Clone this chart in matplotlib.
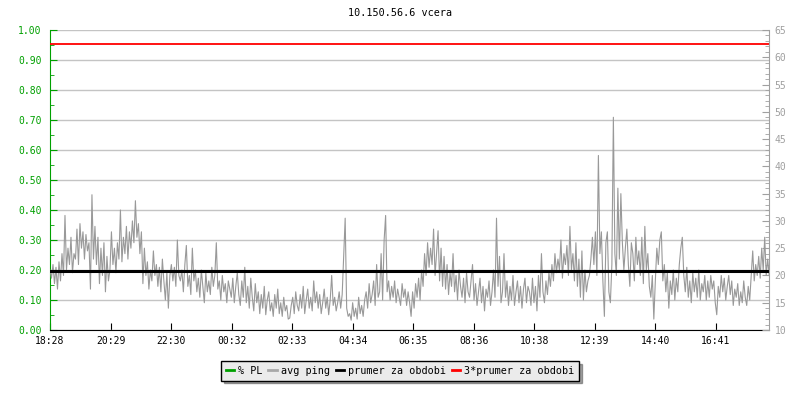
import numpy as np
import matplotlib
matplotlib.use('Agg')
import matplotlib.pyplot as plt
from matplotlib.lines import Line2D

title = '10.150.56.6 vcera'

# avg ping [ms], one value every 3 minutes from 18:28 (481 values = 24 h)
ping = [
    21, 19.5, 22, 18.5, 21.5, 17.5, 22.5, 19, 24, 20, 31, 21, 25, 22, 27, 20.5, 24, 23, 28.5, 22,
    29.5, 25, 28, 23, 27.5, 24.5, 26, 17.5, 34.8, 23, 29, 22, 27, 18.5, 25, 20, 26, 17, 23.5, 19,
    21, 28, 22, 25, 20.5, 26, 23, 32, 22.5, 27, 24, 29, 23, 28, 25, 30, 26, 33.7, 27, 29.5,
    24, 28, 18.5, 25, 20, 22.5, 17.5, 21, 19, 24.5, 20, 22, 18, 21.5, 17, 23, 19, 15.5, 20.5, 14,
    20, 22, 19, 21.5, 18, 26.5, 20, 19, 21, 17, 22, 25.5, 18, 20, 16.5, 25, 19, 21, 17, 19.5,
    16, 21, 18, 15, 20.5, 17, 19, 16.5, 21.5, 18, 20, 26, 17.5, 19, 15.5, 20, 17, 18.5, 15, 19,
    17.5, 16, 19.5, 15, 18, 20.5, 16.5, 14.5, 19, 16, 21.5, 15, 18, 14, 19.5, 16, 13.5, 18.5, 15, 17,
    13, 16.5, 14, 18, 12.8, 15.5, 17, 13.5, 15, 12.5, 16.5, 14, 17.5, 13, 15, 12.5, 16, 13.5, 14.5, 12,
    12.2, 14.5, 16, 13, 17, 14.5, 13.5, 16.5, 14, 18, 13, 15.5, 17.5, 14, 16, 13.5, 19, 15, 17, 14,
    16.5, 13, 15, 17.5, 14, 16, 12.8, 15.5, 20, 14.5, 16, 13.5, 15, 17, 14, 16.5, 23.5, 30.5, 14, 12.5,
    13, 11.8, 15, 12.5, 14, 12, 16, 13, 14.5, 12.5, 15.5, 17, 14, 18.5, 15, 16.5, 19, 14.5, 22, 16,
    17, 24, 15.5, 26.5, 31, 17, 19, 15.5, 18, 16, 19, 15, 17.5, 16, 14.5, 18.5, 16, 17.5, 14.5, 17,
    15, 12.5, 17, 14, 18.5, 16, 19.5, 15.5, 21, 18, 24, 20, 26, 21.5, 25, 22, 28.5, 20, 24, 28.2,
    19, 25, 18, 23.5, 17.5, 22, 16.5, 20.5, 18, 24, 17, 20, 15.5, 21, 18, 16, 19.5, 15, 20.5, 17,
    16, 19, 22, 15.5, 18.5, 14.5, 17, 19.5, 15, 18, 13.5, 17.5, 16, 19, 14.5, 17, 21, 16, 30.5, 18,
    23.5, 15, 17, 24, 16, 19, 14.5, 18, 15.5, 20, 14.5, 17, 19, 15, 18, 14, 17.5, 19.5, 15, 18,
    17, 14.5, 19.5, 15, 18, 13.5, 20, 16, 24, 17, 15, 19, 16.5, 20.5, 18, 22, 19, 24, 20.5, 23,
    21, 26.5, 19.5, 24, 22, 25.5, 20, 29, 21, 24, 19, 26, 18, 23, 16, 24.5, 15.5, 21, 17, 19,
    20, 23, 27, 22, 28, 20, 42, 24, 28, 19, 12.5, 26, 28, 17, 15, 22, 49, 24, 20, 36,
    23, 35, 26, 21, 25, 28.5, 22, 18, 26, 24, 19, 27, 22, 24.5, 20, 27, 18.5, 29, 21, 24,
    18, 16, 20, 12, 19, 25, 22, 26.5, 28, 19, 22, 17, 20.5, 14, 19, 16.5, 21, 15.5, 19.5, 17,
    22, 25, 27, 20, 17, 21.5, 16, 19, 15, 20.5, 17, 19.5, 16, 21, 15.5, 18.5, 17, 20, 15.5, 19,
    16, 20, 17.5, 19, 15, 12.8, 18, 16, 20, 17, 19.5, 15.5, 18, 20, 16.5, 19, 14.5, 17.5, 16, 18.5,
    14.5, 17, 15, 19, 16, 14.5, 18, 15.5, 20, 24.5, 19, 22, 20, 23.5, 19.5, 25, 21, 27, 20, 23,
    20,
]
prumer = 20.83          # prumer za obdobi [ms]
step_min = 3
tick_labels = ['18:28', '20:29', '22:30', '00:32', '02:33', '04:34',
               '06:35', '08:36', '10:38', '12:39', '14:40', '16:41']
tick_step_min = 121.2
legend_labels = ['% PL', 'avg ping', 'prumer za obdobi', '3*prumer za obdobi']

plt.rcParams['font.family'] = 'DejaVu Sans Mono'
plt.rcParams['font.size'] = 7

minutes = np.arange(len(ping)) * step_min

fig = plt.figure(figsize=(8, 4), dpi=100)
ax = fig.add_axes([0.0625, 0.175, 0.899, 0.75])   # % PL axis (left)
ax2 = ax.twinx()                                  # ping axis (right)

ax.set_xlim(0, minutes[-1])
ax.set_ylim(0, 1)
ax2.set_ylim(10, 65)

ax.set_yticks(np.arange(0, 1.01, 0.1))
ax.set_yticks(np.arange(0, 1.01, 0.05), minor=True)
ax.set_yticklabels([f'{v:.2f}' for v in np.arange(0, 1.01, 0.1)])
ax.grid(axis='y', color='#c4c4c4', linewidth=1)
ax.set_axisbelow(True)
ax.tick_params(axis='y', which='both', direction='in', colors='#00a000',
               labelcolor='#00a000', pad=6)
ax.tick_params(axis='y', which='major', length=5)
ax.tick_params(axis='y', which='minor', length=3)
ax.spines['left'].set_color('#00a000')
ax.spines['top'].set_visible(False)
ax.spines['right'].set_visible(False)

ax.set_xticks(np.arange(len(tick_labels)) * tick_step_min)
ax.set_xticklabels(tick_labels)
ax.tick_params(axis='x', direction='in', length=5, pad=4, colors='black')

ax2.set_yticks(np.arange(10, 66, 5))
ax2.set_yticks(np.arange(10, 66, 1), minor=True)
ax2.tick_params(axis='y', which='both', direction='in', colors='#a0a0a0',
                labelcolor='#a0a0a0', pad=4)
ax2.tick_params(axis='y', which='major', length=5)
ax2.tick_params(axis='y', which='minor', length=3)
for s in ['top', 'left', 'bottom']:
    ax2.spines[s].set_visible(False)
ax2.spines['right'].set_color('#a0a0a0')

ax2.plot(minutes, ping, color='#999999', linewidth=0.8)
ax2.axhline(prumer, color='black', linewidth=2.2)
ax2.axhline(3 * prumer, color='#ff0000', linewidth=1.3)

fig.text(0.5, 1 - 13 / 400, title, ha='center', va='center', fontsize=7.3)

handles = [Line2D([], [], color='#00a000', linewidth=2),
           Line2D([], [], color='#a8a8a8', linewidth=2),
           Line2D([], [], color='black', linewidth=2),
           Line2D([], [], color='#ff0000', linewidth=2)]
leg = fig.legend(handles, legend_labels, loc='center', bbox_to_anchor=(0.5, 1 - 371 / 400),
                 ncol=4, frameon=True, fancybox=False, shadow=True, edgecolor='black',
                 facecolor='#ebebeb', framealpha=1, handlelength=0.8, handletextpad=0.4,
                 columnspacing=0.6, borderpad=0.45, fontsize=7.3)
leg.get_frame().set_linewidth(1)

fig.savefig('out.png', dpi=100)
